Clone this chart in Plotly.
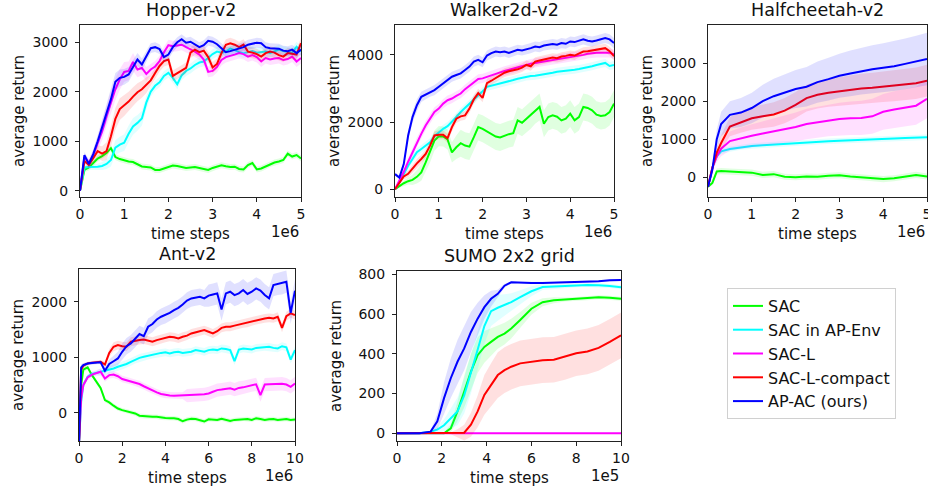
import plotly.graph_objects as go

W, H = 928, 488

METHODS = ["SAC", "SAC in AP-Env", "SAC-L", "SAC-L-compact", "AP-AC (ours)"]
COLORS = ["#00ff00", "#00ffff", "#ff00ff", "#ff0000", "#0000ff"]

# ---- Hopper-v2 (x in 1e6 steps) ----
HOP_X = [i / 10 for i in range(51)]
HOP_SAC = [0, 420, 470, 560, 650, 700, 760, 860, 680, 640, 610, 590, 580, 540, 490, 480, 470, 420, 420, 450,
           480, 510, 500, 480, 460, 470, 480, 460, 440, 420, 460, 490, 515, 495, 480, 485, 440, 430, 520, 560,
           430, 450, 490, 540, 570, 590, 620, 750, 690, 720, 650]
HOP_APENV = [0, 470, 480, 480, 485, 500, 540, 620, 870, 930, 970, 1150, 1300, 1370, 1460, 1780, 2000, 2120, 2190, 2320,
             2380, 2280, 2150, 2330, 2420, 2470, 2540, 2590, 2610, 2680, 2760, 2810, 2790, 2810, 2870, 2840, 2800, 2780, 2800, 2820,
             2790, 2800, 2810, 2780, 2820, 2850, 2820, 2800, 2790, 2910, 2820]
HOP_SACL = [0, 680, 560, 720, 960, 1200, 1500, 1800, 2050, 2250, 2400, 2420, 2600, 2450, 2480, 2360, 2450, 2510, 2620, 2800,
            2940, 2920, 2930, 2950, 2900, 2860, 2810, 2750, 2650, 2400, 2420, 2500, 2640, 2700, 2720, 2750, 2780, 2760, 2710, 2740,
            2700, 2610, 2680, 2650, 2670, 2680, 2640, 2660, 2710, 2610, 2680]
HOP_COMPACT = [0, 600, 520, 650, 800, 750, 800, 1100, 1450, 1650, 1720, 1800, 1900, 1990, 2050, 2130, 2230, 2380, 2520, 2620,
               2650, 2320, 2370, 2420, 2480, 2790, 2850, 2800, 2830, 2700, 2490, 2560, 2780, 2950, 2980, 2950, 2900, 2950, 2810, 2790,
               2760, 2710, 2780, 2810, 2790, 2740, 2710, 2780, 2760, 2750, 2980]
HOP_APAC = [0, 720, 540, 740, 1000, 1280, 1550, 1850, 2200, 2280, 2300, 2350, 2500, 2650, 2550, 2720, 2880, 2900, 2860, 2700,
            2750, 2900, 3000, 3060, 2990, 3010, 2960, 2900, 2940, 3030, 3010, 2960, 2880, 2800, 2820, 2850, 2870, 2900, 2950, 2970,
            2990, 2980, 2900, 2880, 2880, 2870, 2830, 2820, 2850, 2780, 2850]
HOP_SAC_STD = [0, 40] + [60] * 49
HOP_APENV_STD = [0, 40, 50, 50, 60, 80, 100, 130, 150, 160, 170, 170, 170, 160, 150, 140] + [100] * 35
HOP_SACL_STD = [0, 60, 80, 100, 140, 180, 200, 220, 220, 210, 200, 190, 180, 160, 150, 140] + [110] * 35
HOP_COMPACT_STD = [0, 60, 80, 100, 120, 150, 180, 200, 220, 220, 210, 200, 190, 180, 170, 160] + [110] * 35
HOP_APAC_STD = [0, 60, 80, 100, 120, 150, 170, 180, 180, 170, 160, 150, 140, 130, 120, 110] + [100] * 35

# ---- Walker2d-v2 ----
WAL_X = [i / 10 for i in range(51)]
WAL_SAC = [0, 100, 180, 240, 280, 370, 500, 800, 1100, 1450, 1580, 1570, 1480, 1100, 1250, 1370, 1300, 1270, 1550, 1850,
           1800, 1720, 1650, 1570, 1540, 1600, 1640, 1670, 2050, 1980, 2100, 2200, 2350, 2450, 1950, 2150, 2200, 2160, 2050, 2100,
           2250, 2050, 2150, 2450, 2420, 2350, 2220, 2180, 2200, 2300, 2550]
WAL_APENV = [0, 200, 450, 700, 900, 1100, 1200, 1300, 1400, 1580, 1700, 1800, 1880, 2000, 2150, 2300, 2420, 2550, 2680, 2800,
             2920, 3050, 3080, 3110, 3150, 3180, 3210, 3250, 3290, 3320, 3360, 3370, 3380, 3400, 3410, 3440, 3470, 3500, 3510, 3530,
             3540, 3560, 3580, 3600, 3630, 3660, 3700, 3740, 3760, 3670, 3700]
WAL_SACL = [0, 250, 520, 820, 1100, 1400, 1650, 1900, 2100, 2300, 2400, 2550, 2650, 2700, 2780, 2850, 2980, 3080, 3200, 3280,
            3300, 3350, 3400, 3450, 3480, 3520, 3560, 3600, 3640, 3680, 3710, 3740, 3760, 3780, 3810, 3830, 3850, 3860, 3880, 3900,
            3920, 3950, 3980, 4000, 4030, 4050, 4060, 4060, 4070, 4060, 4020]
WAL_COMPACT = [0, 200, 380, 460, 620, 770, 900, 1050, 1300, 1600, 1620, 1620, 1520, 1850, 2100, 2170, 2200, 2400, 2680, 2860,
               2720, 3160, 3230, 3310, 3400, 3470, 3510, 3530, 3570, 3620, 3700, 3660, 3800, 3830, 3860, 3900, 3920, 3900, 3950, 3970,
               4000, 3980, 4050, 4100, 4110, 4130, 4160, 4180, 4200, 4110, 3960]
WAL_APAC = [450, 350, 750, 1600, 2150, 2500, 2750, 2820, 2900, 2950, 3050, 3150, 3250, 3350, 3400, 3450, 3550, 3650, 3800, 3850,
            3780, 3980, 4050, 4100, 4080, 4100, 4060, 4100, 4150, 4130, 4160, 4200, 4250, 4230, 4280, 4300, 4320, 4300, 4350, 4330,
            4400, 4380, 4420, 4460, 4420, 4400, 4430, 4470, 4500, 4460, 4350]
WAL_SAC_STD = [0, 50, 80, 100, 150, 200, 250, 280, 300, 300, 300, 300, 300, 300, 350] + [400] * 36
WAL_APENV_STD = [0, 50, 80, 100, 120] + [120] * 46
WAL_SACL_STD = [0, 60, 100, 120, 140] + [140] * 46
WAL_COMPACT_STD = [0, 50, 80, 100, 120] + [130] * 46
WAL_APAC_STD = [50, 60, 100, 150, 170, 180] + [150] * 45

# ---- Halfcheetah-v2 ----
HC_X = [0, 0.1, 0.2, 0.3, 0.5, 0.75, 1.0, 1.25, 1.5, 1.75, 2.0, 2.25, 2.5, 2.75, 3.0, 3.25, 3.5, 3.75, 4.0, 4.25, 4.5, 4.75, 5.0]
HC_SAC = [-250, -150, 150, 160, 150, 130, 120, 60, 80, 10, 0, 20, 10, 40, 50, 20, 0, -20, -50, -30, 10, 60, 20]
HC_APENV = [-250, 250, 550, 680, 740, 790, 820, 840, 860, 880, 900, 915, 930, 945, 960, 975, 990, 1000, 1010, 1020, 1030, 1040, 1050]
HC_SACL = [-250, 250, 550, 750, 950, 1030, 1090, 1150, 1200, 1250, 1320, 1400, 1450, 1500, 1530, 1550, 1560, 1600, 1720, 1780, 1830, 1880, 2060]
HC_COMPACT = [-250, 250, 650, 900, 1330, 1450, 1550, 1600, 1650, 1750, 1900, 2080, 2170, 2220, 2260, 2300, 2330, 2350, 2380, 2400, 2430, 2470, 2540]
HC_APAC = [-250, 200, 1000, 1400, 1640, 1700, 1820, 2000, 2130, 2220, 2320, 2380, 2500, 2580, 2670, 2730, 2790, 2840, 2880, 2920, 2980, 3040, 3110]
HC_SAC_STD = [30, 60] + [80] * 21
HC_APENV_STD = [30, 50, 60] + [70] * 20
HC_SACL_STD = [50, 100, 150, 200, 250, 280, 300, 320, 340, 360, 380, 400, 410, 420, 430, 440, 450, 460, 470, 480, 490, 500, 510]
HC_COMPACT_STD = [50, 100, 150, 200, 250, 280, 300, 310, 320, 330, 340, 350, 360, 370, 380, 385, 390, 395, 400, 405, 410, 415, 420]
HC_APAC_STD = [50, 150, 250, 320, 360, 380, 400, 430, 460, 480, 500, 520, 540, 560, 580, 600, 615, 630, 640, 655, 670, 680, 690]

# ---- Ant-v2 ----
ANT_X = [0, 0.1] + [round(0.2 * i, 1) for i in range(1, 51)]
ANT_SAC = [-550, 500, 780, 820, 680, 560, 450, 230, 190, 130, 80, 50, 30, 10, -10, -50, -60, -60, -70, -70,
           -85, -90, -95, -95, -110, -150, -120, -105, -110, -130, -155, -115, -120, -125, -105, -120, -145, -125, -120, -105,
           -110, -125, -95, -110, -125, -115, -110, -125, -115, -110, -125, -120]
ANT_APENV = [-550, 200, 500, 650, 700, 720, 730, 750, 770, 800, 830, 850, 880, 920, 960, 990, 1010, 1030, 1050, 1070,
             1080, 1090, 1070, 1090, 1100, 1080, 1090, 1100, 1130, 1120, 1100, 1130, 1140, 1130, 1160, 1150, 1130, 930, 1140, 1160,
             1150, 1140, 1170, 1180, 1190, 1190, 1170, 1160, 1200, 1180, 960, 1130]
ANT_SACL = [-550, 260, 500, 640, 690, 720, 740, 620, 680, 690, 660, 610, 590, 570, 545, 520, 480, 440, 410, 370,
            340, 325, 315, 310, 312, 310, 312, 315, 320, 330, 335, 350, 380, 410, 420, 430, 445, 420, 450, 460,
            480, 500, 515, 320, 510, 515, 520, 520, 525, 510, 470, 530]
ANT_COMPACT = [-550, 780, 850, 890, 905, 915, 920, 870, 1080, 1190, 1220, 1200, 1190, 1280, 1300, 1310, 1320, 1300, 1280, 1310,
               1330, 1350, 1370, 1360, 1340, 1370, 1390, 1430, 1450, 1470, 1490, 1460, 1430, 1470, 1530, 1550, 1550, 1570, 1590, 1610,
               1620, 1650, 1670, 1690, 1700, 1710, 1700, 1730, 1530, 1740, 1790, 1760]
ANT_APAC = [-550, 820, 860, 890, 900, 905, 910, 760, 880, 930, 980, 1100, 1200, 1250, 1330, 1420, 1380, 1550, 1600, 1680,
            1730, 1760, 1800, 1850, 1890, 1950, 2020, 2060, 2080, 2090, 2060, 2110, 2130, 2150, 1860, 2150, 2180, 2120, 2150, 2210,
            2140, 2180, 2240, 2200, 2120, 2060, 2300, 2320, 2330, 2360, 1800, 2200]
ANT_SAC_STD = [0, 60, 50, 40, 40, 40] + [40] * 46
ANT_APENV_STD = [0, 60, 50, 40, 40, 40] + [70] * 46
ANT_SACL_STD = [0, 60, 60, 50, 50, 50] + [60] * 20 + [120] * 26
ANT_COMPACT_STD = [0, 60, 40, 30, 30, 30, 30, 50, 70] + [80] * 43
ANT_APAC_STD = [0, 60, 40, 30, 30, 30, 30, 60, 80, 100, 120] + [150] * 20 + [200] * 21

# ---- SUMO 2x2 grid (x in 1e5 steps) ----
SUMO_X = [0, 0.5, 1.0, 1.5, 1.8, 2.1, 2.4, 2.7, 3.0, 3.3, 3.6, 3.9, 4.2, 4.5, 4.8, 5.1, 5.5, 6.0, 6.5, 7.0, 7.5, 8.0, 8.5, 9.0, 9.5, 10.0]
SUMO_SAC = [0, 0, 0, 0, 0, 0, 25, 110, 210, 310, 393, 435, 460, 485, 502, 527, 570, 627, 660, 670, 673, 676, 680, 685, 682, 677]
SUMO_APENV = [0, 0, 0, 8, 18, 40, 75, 110, 190, 300, 420, 540, 615, 632, 645, 660, 685, 715, 736, 738, 740, 745, 747, 745, 742, 735]
SUMO_SACL = [0, 0, 0, 0, 0, 0, 0, 0, 0, 0, 0, 0, 0, 0, 0, 0, 0, 0, 0, 0, 0, 0, 0, 0, 0, 0]
SUMO_COMPACT = [0, 0, 0, 0, 0, 0, 0, 0, 3, 43, 110, 193, 243, 293, 318, 335, 352, 360, 368, 370, 385, 403, 412, 430, 460, 493]
SUMO_APAC = [0, 0, 0, 8, 60, 177, 277, 360, 427, 510, 577, 635, 677, 702, 743, 760, 758, 757, 757, 758, 760, 760, 763, 765, 770, 772]
SUMO_SAC_STD = [0, 0, 0, 0, 0, 5, 20, 50, 80, 90, 90, 80, 70, 60, 55, 50, 40, 30, 20, 15, 10, 10, 10, 10, 10, 10]
SUMO_APENV_STD = [0, 0, 0, 5, 15, 30, 50, 70, 90, 100, 100, 90, 75, 65, 55, 45, 35, 25, 15, 10, 10, 10, 10, 10, 10, 10]
SUMO_SACL_STD = [0] * 26
SUMO_COMPACT_STD = [0, 0, 0, 0, 0, 0, 5, 20, 40, 60, 80, 100, 110, 115, 115, 115, 115, 115, 115, 115, 115, 115, 115, 115, 115, 115]
SUMO_APAC_STD = [0, 0, 0, 5, 40, 80, 100, 110, 110, 100, 80, 60, 40, 20, 10, 5, 5, 5, 5, 5, 5, 5, 5, 5, 5, 5]

# panel layout in pixels: (left, right, top, bottom), y range, ticks
panels = [
    dict(title="Hopper-v2", x=HOP_X, ys=[HOP_SAC, HOP_APENV, HOP_SACL, HOP_COMPACT, HOP_APAC],
         sds=[HOP_SAC_STD, HOP_APENV_STD, HOP_SACL_STD, HOP_COMPACT_STD, HOP_APAC_STD],
         box=(80, 301, 25, 197), yr=[-127, 3348], yt=[0, 1000, 2000, 3000], xr=[0, 5], xt=[0, 1, 2, 3, 4, 5], off="1e6"),
    dict(title="Walker2d-v2", x=WAL_X, ys=[WAL_SAC, WAL_APENV, WAL_SACL, WAL_COMPACT, WAL_APAC],
         sds=[WAL_SAC_STD, WAL_APENV_STD, WAL_SACL_STD, WAL_COMPACT_STD, WAL_APAC_STD],
         box=(395, 614, 25, 197), yr=[-230, 4889], yt=[0, 2000, 4000], xr=[0, 5], xt=[0, 1, 2, 3, 4, 5], off="1e6"),
    dict(title="Halfcheetah-v2", x=HC_X, ys=[HC_SAC, HC_APENV, HC_SACL, HC_COMPACT, HC_APAC],
         sds=[HC_SAC_STD, HC_APENV_STD, HC_SACL_STD, HC_COMPACT_STD, HC_APAC_STD],
         box=(708, 927, 25, 197), yr=[-521, 4003], yt=[0, 1000, 2000, 3000], xr=[0, 5], xt=[0, 1, 2, 3, 4, 5], off="1e6"),
    dict(title="Ant-v2", x=ANT_X, ys=[ANT_SAC, ANT_APENV, ANT_SACL, ANT_COMPACT, ANT_APAC],
         sds=[ANT_SAC_STD, ANT_APENV_STD, ANT_SACL_STD, ANT_COMPACT_STD, ANT_APAC_STD],
         box=(79, 295, 269, 441), yr=[-505, 2589], yt=[0, 1000, 2000], xr=[0, 10], xt=[0, 2, 4, 6, 8, 10], off="1e6"),
    dict(title="SUMO 2x2 grid", x=SUMO_X, ys=[SUMO_SAC, SUMO_APENV, SUMO_SACL, SUMO_COMPACT, SUMO_APAC],
         sds=[SUMO_SAC_STD, SUMO_APENV_STD, SUMO_SACL_STD, SUMO_COMPACT_STD, SUMO_APAC_STD],
         box=(397, 621, 271, 441), yr=[-39, 817], yt=[0, 200, 400, 600, 800], xr=[0, 10], xt=[0, 2, 4, 6, 8, 10], off="1e5"),
]


def rgba(hexcol, a):
    h = hexcol.lstrip("#")
    return f"rgba({int(h[0:2], 16)},{int(h[2:4], 16)},{int(h[4:6], 16)},{a})"


FONT = "DejaVu Sans"
fig = go.Figure()
annotations = []
layout_axes = {}

for k, p in enumerate(panels):
    n = "" if k == 0 else str(k + 1)
    xa, ya = "x" + n, "y" + n
    l, r, t, b = p["box"]
    for m, (y, sd, col, name) in enumerate(zip(p["ys"], p["sds"], COLORS, METHODS)):
        upper = [v + s for v, s in zip(y, sd)]
        lower = [v - s for v, s in zip(y, sd)]
        fig.add_trace(go.Scatter(
            x=p["x"] + p["x"][::-1], y=upper + lower[::-1], fill="toself",
            fillcolor=rgba(col, 0.12), line=dict(width=0), mode="lines",
            hoverinfo="skip", showlegend=False, xaxis=xa, yaxis=ya))
        fig.add_trace(go.Scatter(
            x=p["x"], y=y, mode="lines", name=name, legendgroup=name,
            line=dict(color=col, width=2), showlegend=(k == 0), xaxis=xa, yaxis=ya))

    common = dict(showline=True, mirror=True, linecolor="#222", linewidth=1, ticks="outside",
                  ticklen=4, tickwidth=1, tickcolor="#222", showgrid=False, zeroline=False,
                  automargin=False, ticklabeloverflow="allow",
                  tickfont=dict(family=FONT, size=14, color="#111"))
    layout_axes["xaxis" + n] = dict(common, domain=[l / W, r / W], range=p["xr"], tickvals=p["xt"], anchor=ya)
    layout_axes["yaxis" + n] = dict(common, domain=[1 - b / H, 1 - t / H], range=p["yr"], tickvals=p["yt"],
                                    anchor=xa, ticklabelstandoff=4)

    cx = (l + r) / 2
    annotations += [
        dict(text=p["title"], x=cx / W, y=1 - (t - 15) / H, font=dict(size=17.5)),
        dict(text="time steps", x=cx / W, y=1 - (b + 37) / H, font=dict(size=15)),
        dict(text=p["off"], x=r / W, y=1 - (b + 35) / H, xanchor="right", font=dict(size=15)),
        dict(text="average return", x=(l - 61) / W, y=1 - (t + b) / 2 / H, textangle=-90, font=dict(size=15)),
    ]

for a in annotations:
    a.update(xref="paper", yref="paper", showarrow=False, yanchor="middle",
             font=dict(a["font"], family=FONT, color="#111"))
    a.setdefault("xanchor", "center")

fig.update_layout(
    template="none",
    width=W, height=H, margin=dict(l=0, r=0, t=0, b=0, autoexpand=False),
    paper_bgcolor="white", plot_bgcolor="white",
    annotations=annotations,
    legend=dict(x=727 / W, y=1 - 288 / H, xanchor="left", yanchor="top",
                bgcolor="white", bordercolor="#d0d0d0", borderwidth=1,
                font=dict(family=FONT, size=16, color="#111"), tracegroupgap=0, itemwidth=30),
    **layout_axes,
)

# drop the browser's default body margin so the figure sits at the page corner
fig.write_html("out.html", config={"displayModeBar": False},
               post_script="document.body.style.margin='0';")
